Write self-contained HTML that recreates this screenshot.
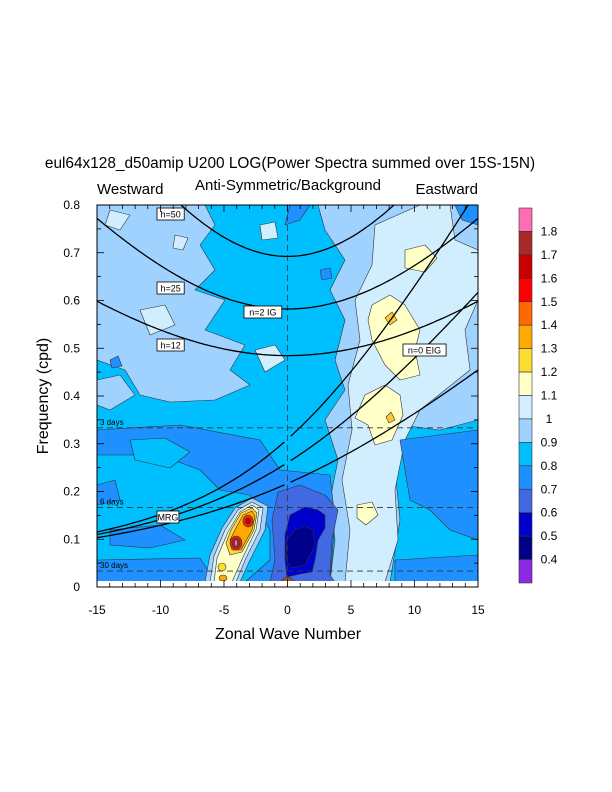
<!DOCTYPE html>
<html><head><meta charset="utf-8"><style>
html,body{margin:0;padding:0;background:#fff;}
svg{display:block;font-family:"Liberation Sans",sans-serif;}
</style></head><body>
<svg id="s" width="612" height="792" viewBox="0 0 612 792" xmlns="http://www.w3.org/2000/svg">
<defs><clipPath id="pc"><rect x="97" y="205" width="381" height="382"/></clipPath></defs>
<text x="290" y="168" font-size="15.4" text-anchor="middle">eul64x128_d50amip U200 LOG(Power Spectra summed over 15S-15N)</text>
<text x="97" y="194" font-size="15">Westward</text>
<text x="288" y="190" font-size="15" text-anchor="middle">Anti-Symmetric/Background</text>
<text x="478" y="194" font-size="15" text-anchor="end">Eastward</text>
<g clip-path="url(#pc)" stroke="#333" stroke-width="0.6" stroke-linejoin="round">
<rect x="97" y="205" width="381" height="377" fill="#00bfff" stroke="none"/>
<path fill="#a0d2ff" d="M97,205 L205,205 L215,225 L200,245 L215,270 L195,290 L225,300 L205,330 L245,345 L230,370 L250,385 L215,400 L170,402 L140,395 L125,370 L97,360 Z"/>
<path fill="#a0d2ff" d="M97,380 L120,375 L135,395 L110,410 L97,405 Z"/>
<path fill="#a0d2ff" d="M318,205 L478,205 L478,420 L440,430 L400,425 L395,470 L400,520 L390,582 L330,582 L335,540 L330,500 L338,460 L325,420 L345,390 L335,360 L345,320 L330,290 L345,260 L325,230 Z"/>
<path fill="#00bfff" d="M478,260 L460,250 L455,275 L478,290 Z"/>
<path fill="#1e90ff" d="M455,205 L478,205 L478,225 L462,220 Z"/>
<path fill="#d1eeff" d="M375,225 L420,205 L450,205 L455,240 L478,250 L478,300 L465,330 L470,370 L445,390 L420,410 L405,440 L395,490 L398,540 L385,582 L345,582 L350,530 L342,480 L352,430 L348,385 L360,340 L355,300 L372,265 Z"/>
<path fill="#d1eeff" d="M255,350 L275,345 L285,360 L265,372 Z"/>
<path fill="#d1eeff" d="M110,210 L130,215 L120,230 L105,225 Z"/>
<path fill="#d1eeff" d="M140,310 L165,305 L175,325 L150,335 Z"/>
<path fill="#ffffc8" d="M405,250 L425,245 L437,258 L425,272 L405,268 Z"/>
<path fill="#ffffc8" d="M372,305 L390,295 L405,305 L420,330 L415,350 L420,375 L400,380 L385,365 L372,340 L368,320 Z"/>
<path fill="#ffc830" d="M385,318 L392,312 L397,320 L390,325 Z"/>
<path fill="#ffffc8" d="M365,395 L385,385 L400,395 L403,415 L392,440 L375,445 L368,425 L355,418 Z"/>
<path fill="#ffc830" d="M386,417 L391,412 L395,420 L389,423 Z"/>
<path fill="#ffffc8" d="M357,505 L372,502 L378,515 L366,525 L357,518 Z"/>
<path fill="#1e90ff" d="M97,430 L180,425 L260,440 L280,470 L330,475 L335,520 L330,582 L245,582 L270,560 L270,530 L250,495 L220,490 L200,470 L160,455 L97,455 Z"/>
<path fill="#00bfff" d="M130,440 L165,438 L190,452 L170,468 L135,460 Z"/>
<path fill="#1e90ff" d="M97,485 L115,480 L120,500 L97,505 Z"/>
<path fill="#1e90ff" d="M110,530 L160,525 L185,540 L150,548 L110,545 Z"/>
<path fill="#1e90ff" d="M97,560 L200,558 L215,582 L97,582 Z"/>
<path fill="#1e90ff" d="M400,440 L478,430 L478,540 L450,530 L430,510 L410,500 Z"/>
<path fill="#1e90ff" d="M395,560 L478,555 L478,582 L395,582 Z"/>
<path fill="#1e90ff" d="M300,220 L310,205 L290,205 L285,225 Z"/>
<path fill="#4169e1" d="M278,492 L300,485 L325,495 L338,510 L332,540 L330,575 L335,582 L270,582 L275,560 L272,520 Z"/>
<path fill="#0000cd" d="M290,515 L305,507 L318,510 L325,515 L325,528 L318,540 L315,560 L312,572 L300,574 L287,577 L285,560 L285,535 Z"/>
<path fill="#00008b" d="M295,530 L305,526 L313,530 L315,545 L305,565 L292,568 L286,560 L287,540 Z"/>
<path fill="#a0522d" d="M280,582 L287,576 L296,582 Z"/>
<path fill="#a0d2ff" d="M235,508 L252,498 L268,506 L265,530 L250,560 L240,582 L205,582 L210,555 L222,528 Z"/>
<path fill="#d1eeff" d="M238,510 L252,502 L263,508 L260,530 L246,558 L236,582 L210,582 L214,556 L225,530 Z"/>
<path fill="#ffffc8" d="M240,512 L252,505 L259,510 L256,530 L244,555 L232,582 L214,582 L217,558 L228,532 Z"/>
<path fill="#ffd830" d="M241,513 L252,508 L257,513 L254,530 L242,552 L230,555 L226,543 L231,530 Z"/>
<path fill="#ffaa00" d="M243,515 L252,511 L255,516 L252,530 L241,550 L232,550 L230,540 L236,528 Z"/>
<ellipse cx="248" cy="521" rx="5" ry="6" fill="#ff2000"/>
<ellipse cx="248" cy="521" rx="2.5" ry="3" fill="#c00000"/>
<ellipse cx="236" cy="543" rx="6" ry="7" fill="#ff2000"/>
<ellipse cx="236" cy="543" rx="4" ry="5" fill="#a52a2a"/>
<ellipse cx="236" cy="543" rx="1.5" ry="3" fill="#ff6eb4"/>
<ellipse cx="222" cy="567" rx="4" ry="4" fill="#ffd830"/>
<ellipse cx="223" cy="578" rx="4" ry="3" fill="#ffaa00"/>
<path fill="#1e90ff" d="M320,270 L330,268 L332,278 L322,280 Z"/>
<path fill="#1e90ff" d="M110,360 L118,356 L122,366 L112,368 Z"/>
<path fill="#d1eeff" d="M175,235 L188,238 L183,250 L173,248 Z"/>
<path fill="#d1eeff" d="M260,225 L275,222 L278,238 L262,240 Z"/>
</g>
<rect x="97" y="581" width="381" height="6" fill="#fff"/>
<g id="dyn"></g>
<rect x="97" y="205" width="381" height="382" fill="none" stroke="#000" stroke-width="1"/>
<text x="288" y="639" font-size="16" text-anchor="middle">Zonal Wave Number</text>
<text transform="translate(48,396) rotate(-90)" font-size="16" text-anchor="middle">Frequency (cpd)</text>
<g id="cb"></g>
</svg>
<script>
(function(){
var NS="http://www.w3.org/2000/svg",d=document.getElementById('dyn'),cb=document.getElementById('cb');
function X(k){return 97+(k+15)*381/30;}
function Y(f){return 587-f*382/0.8;}
function el(p,tag,a,txt){var e=document.createElementNS(NS,tag);for(var k in a)e.setAttribute(k,a[k]);if(txt!=null)e.textContent=txt;p.appendChild(e);return e;}
var g=el(d,'g',{'clip-path':'url(#pc)'});
[1/3,1/6,1/30].forEach(function(f){el(g,'line',{x1:97,x2:478,y1:Y(f),y2:Y(f),stroke:'#333','stroke-width':0.8,'stroke-dasharray':'6,4'});});
el(g,'line',{x1:X(0),x2:X(0),y1:205,y2:587,stroke:'#333','stroke-width':0.8,'stroke-dasharray':'6,4'});
el(d,'text',{x:100,y:Y(1/3)-3,'font-size':8},'3 days');
el(d,'text',{x:100,y:Y(1/6)-3,'font-size':8},'6 days');
el(d,'text',{x:100,y:Y(1/30)-3,'font-size':8},'30 days');
var a=6.371e6,beta=2*7.292e-5/a,gg=9.81,cv=86400/(2*Math.PI);
function path(pts){var s='';pts.forEach(function(p,i){s+=(i?'L':'M')+X(p[0]).toFixed(1)+','+Y(p[1]).toFixed(1);});el(g,'path',{d:s,fill:'none',stroke:'#000','stroke-width':1.3});}
[12,25,50].forEach(function(h){var c=Math.sqrt(gg*h),p=[],m=[],e=[];
for(var k=-15;k<=15.001;k+=0.25){var kk=k/a;p.push([k,Math.sqrt(5*beta*c+c*c*kk*kk)*cv]);
var w=c*(kk/2+Math.sqrt(kk*kk/4+beta/c))*cv; if(k<=-0.2)m.push([k,w]); if(k>=0.2)e.push([k,w]);}
path(p);path(m);path(e);});
function lab(x,y,t){var w=t.length*5.3+6;el(d,'rect',{x:x,y:y,width:w,height:12,fill:'#fff',stroke:'#000','stroke-width':0.8});el(d,'text',{x:x+w/2,y:y+9.5,'font-size':9,'text-anchor':'middle'},t);}
lab(157,208,'h=50');lab(157,282,'h=25');lab(244,306,'n=2 IG');lab(157,339,'h=12');lab(403,344,'n=0 EIG');lab(157,511,'MRG');
for(var k=-15;k<=15;k++){var x=X(k),L=(k%5==0)?7:4;
el(d,'line',{x1:x,x2:x,y1:587,y2:587-L,stroke:'#000','stroke-width':0.8});
el(d,'line',{x1:x,x2:x,y1:205,y2:205+L,stroke:'#000','stroke-width':0.8});
if(k%5==0)el(d,'text',{x:x,y:614,'font-size':12,'text-anchor':'middle'},String(k));}
for(var i=0;i<=16;i++){var f=i*0.05,y=Y(f),L=(i%2==0)?7:4;
el(d,'line',{x1:97,x2:97+L,y1:y,y2:y,stroke:'#000','stroke-width':0.8});
el(d,'line',{x1:478,x2:478-L,y1:y,y2:y,stroke:'#000','stroke-width':0.8});
if(i%2==0)el(d,'text',{x:80,y:y+4,'font-size':12,'text-anchor':'end'},i==0?'0':(f.toFixed(1)));}
var cols=['#ff6eb4','#a52a2a','#c80000','#ff0000','#ff6a00','#ffaa00','#ffdc32','#ffffc8','#d2f0ff','#a0d2ff','#00bfff','#1e90ff','#4169e1','#0000cd','#000088','#8a2be2'];
var labs=['1.8','1.7','1.6','1.5','1.4','1.3','1.2','1.1','1','0.9','0.8','0.7','0.6','0.5','0.4'];
var top=208,bh=375/16;
cols.forEach(function(c,i){el(cb,'rect',{x:519,y:top+i*bh,width:13,height:bh,fill:c,stroke:'#333','stroke-width':0.6});});
labs.forEach(function(t,i){el(cb,'text',{x:549,y:top+(i+1)*bh+4,'font-size':12,'text-anchor':'middle'},t);});
})();
</script>
</body></html>
